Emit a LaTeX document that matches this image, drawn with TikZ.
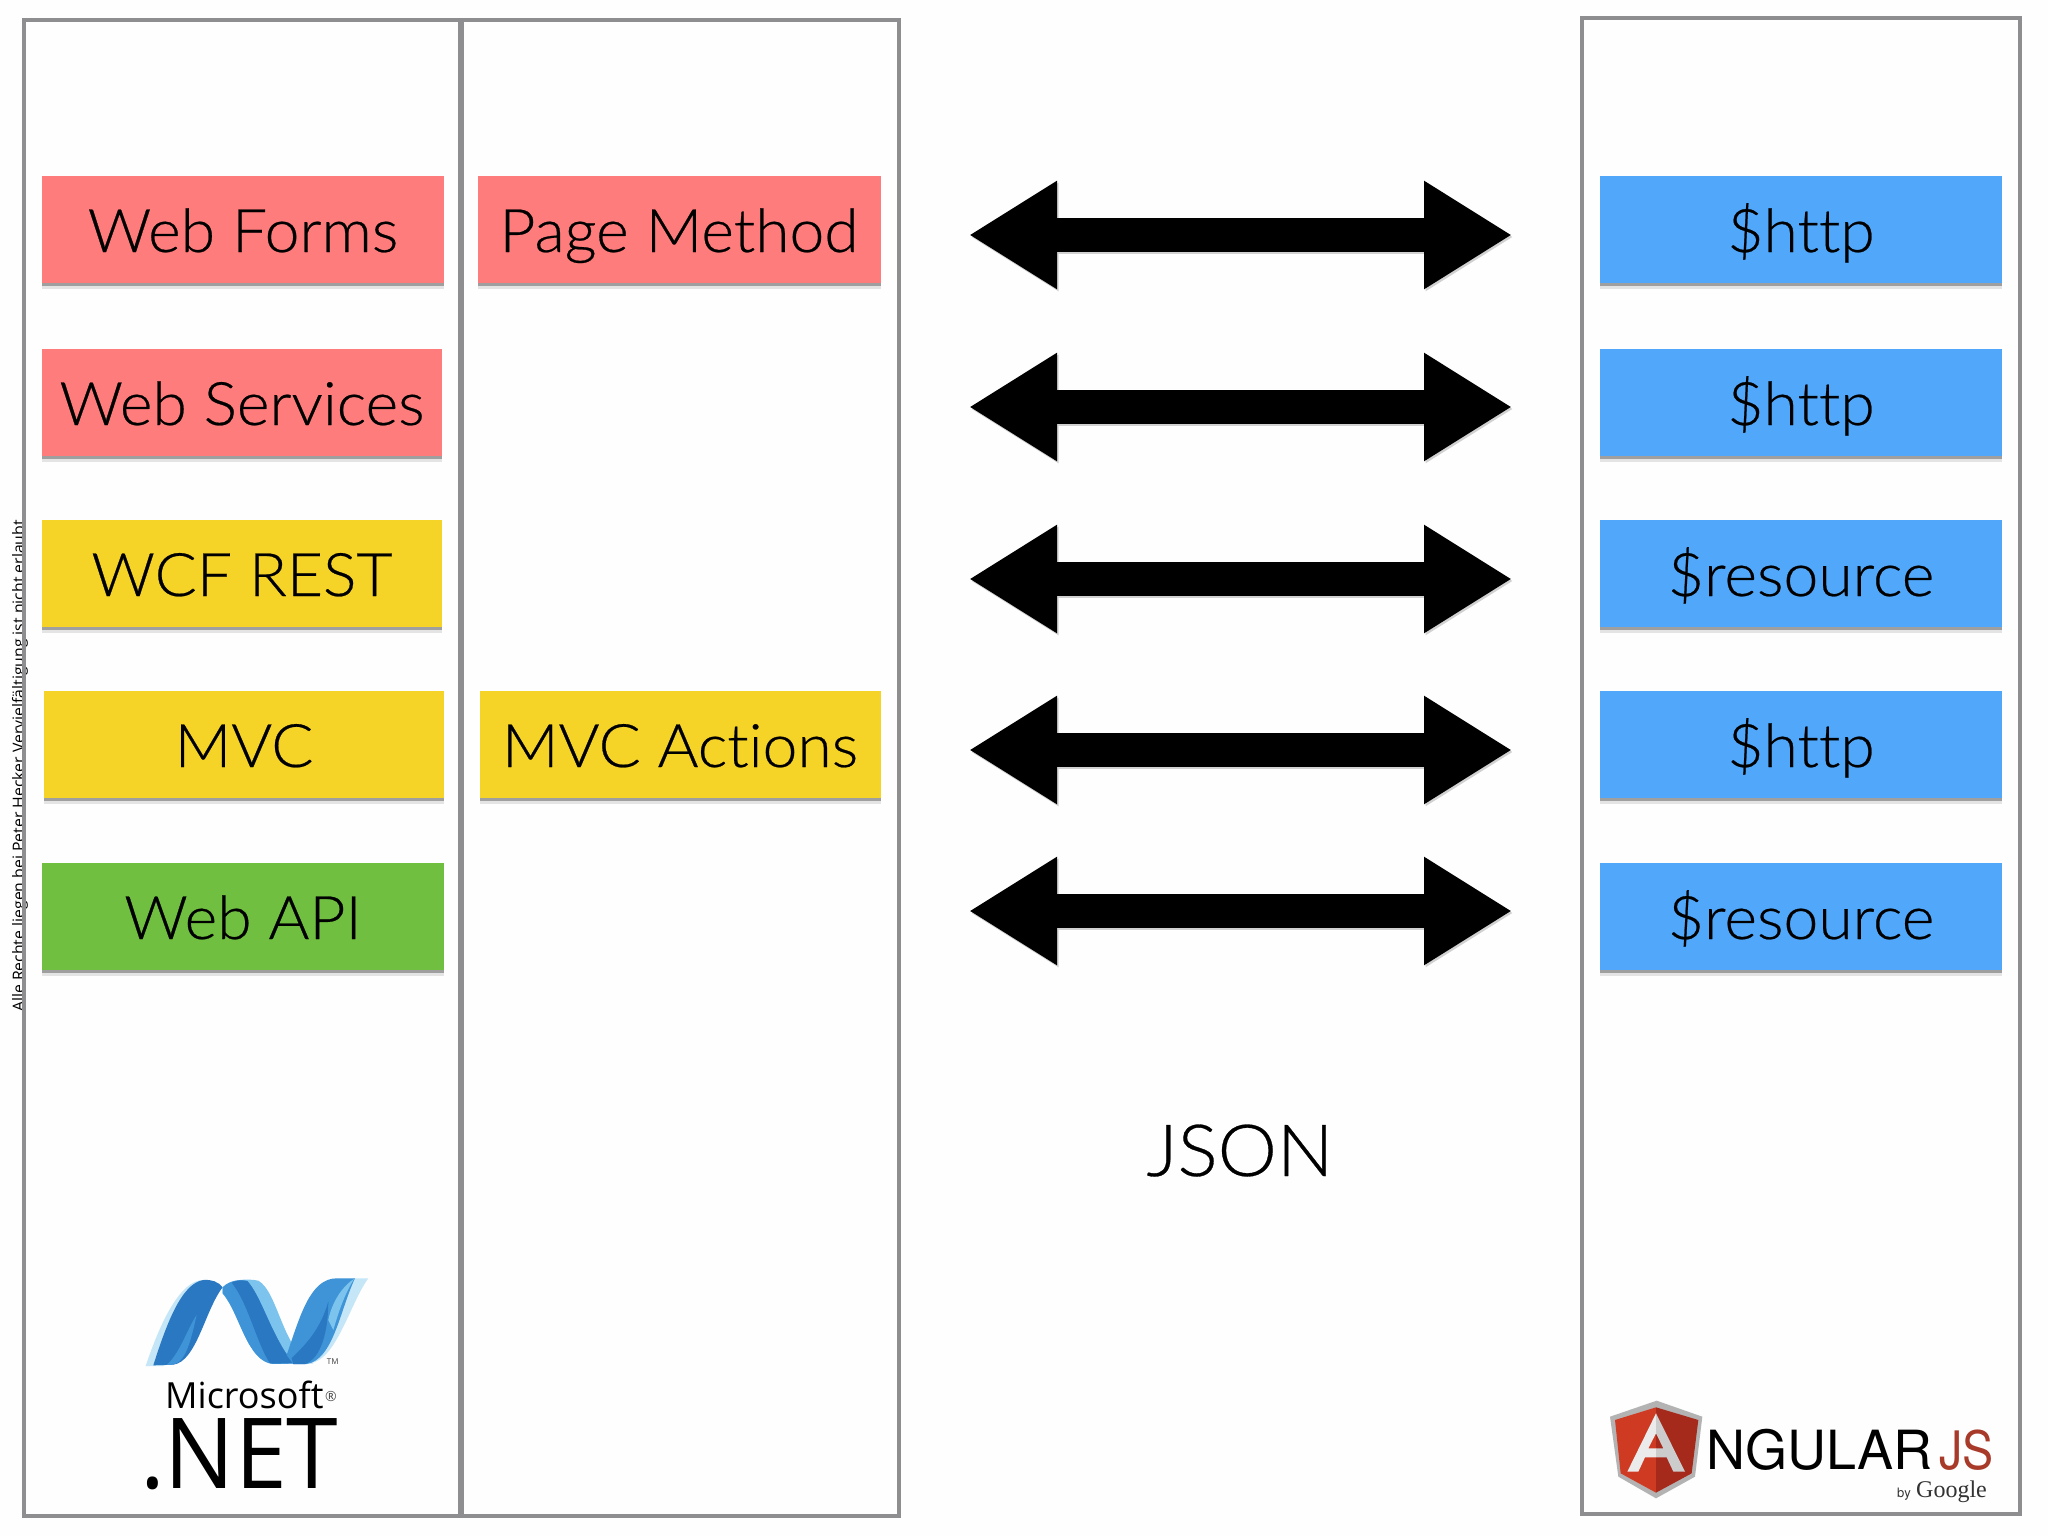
\documentclass[tikz,border=0pt]{standalone}
\usepackage{fontspec}
\setmainfont{TeX Gyre Heros}
\newfontfamily\thinfont{Lato Light}[FakeStretch=1.04,FakeBold=0.4,Ligatures=NoCommon]
\newfontfamily\opensans{Open Sans}
\newfontfamily\serifgoogle{Liberation Serif}
\usetikzlibrary{arrows.meta,shadows}

\definecolor{panelgray}{HTML}{8E8E90}
\definecolor{boxred}{HTML}{FF7C7C}
\definecolor{boxyellow}{HTML}{F5D327}
\definecolor{boxgreen}{HTML}{70BF41}
\definecolor{boxblue}{HTML}{51A7F9}
\definecolor{netdark}{HTML}{2A78C2}
\definecolor{netmid}{HTML}{3F94D8}
\definecolor{netlight}{HTML}{7CC4EE}
\definecolor{netpale}{HTML}{C5E6F6}
\definecolor{ngshield}{HTML}{B3B3B3}
\definecolor{ngred}{HTML}{CF3A22}
\definecolor{ngdark}{HTML}{A62A1C}
\definecolor{ngjs}{HTML}{A83A2A}

\tikzset{
  panel/.style={draw=panelgray, line width=4.4pt},
  card/.style={minimum height=107pt, inner sep=0pt, text=black,
    text height=46pt, text depth=0pt,
    font=\thinfont\fontsize{60}{60}\selectfont,
    drop shadow={shadow xshift=0pt, shadow yshift=-6pt, fill=black, opacity=.10},
    drop shadow={shadow xshift=0pt, shadow yshift=-3.5pt, fill=black, opacity=.30}},
  dbl/.style={line width=34pt, line cap=butt,
    {Triangle[length=88pt,width=102pt]}-{Triangle[length=88pt,width=102pt]}},
  lbl/.style={inner sep=0pt, anchor=base west}
}

\begin{document}
\begin{tikzpicture}[x=1pt, y=-1pt]
\useasboundingbox (0,0) rectangle (2048,1536);
\fill[white!99.5!black] (0,0) rectangle (2048,1536);

% copyright line sits under the panel border
\node[lbl, rotate=90, font=\opensans\fontsize{15.8}{16}\selectfont] (rights) at (24,1012)
  {Alle Rechte liegen bei Peter Hecker Vervielfältigung ist nicht erlaubt};

% panels
\draw[panel] (24,20) rectangle (460,1516);
\draw[panel] (462,20) rectangle (899,1516);
\draw[panel] (1582,18) rectangle (2020,1514);

% first column
\node[card, fill=boxred, minimum width=402pt] (webforms) at (243,229) {Web Forms};
\node[card, fill=boxred, minimum width=400pt] (webservices) at (242,402) {Web Services};
\node[card, fill=boxyellow, minimum width=400pt] (wcf) at (242,573) {WCF REST};
\node[card, fill=boxyellow, minimum width=400pt] (mvc) at (244,744) {MVC};
\node[card, fill=boxgreen, minimum width=402pt] (webapi) at (243,916) {Web API};

% second column
\node[card, fill=boxred, minimum width=403pt] (pagemethod) at (679,229) {Page Method};
\node[card, fill=boxyellow, minimum width=401pt] (mvcactions) at (680,744) {MVC Actions};

% client column
\node[card, fill=boxblue, minimum width=402pt] (http1) at (1801,229) {\$http};
\node[card, fill=boxblue, minimum width=402pt] (http2) at (1801,402) {\$http};
\node[card, fill=boxblue, minimum width=402pt] (res1) at (1801,573) {\$resource};
\node[card, fill=boxblue, minimum width=402pt] (http3) at (1801,744) {\$http};
\node[card, fill=boxblue, minimum width=402pt] (res2) at (1801,916) {\$resource};

% double arrows
\foreach \n/\yy in {1/235,2/407,3/579,4/750,5/911}{
  \coordinate (al\n) at (969,\yy);
  \coordinate (ar\n) at (1512,\yy);
  \draw[dbl, draw=black!18, color=black!18] ([shift={(1.5,2)}]al\n) -- ([shift={(1.5,2)}]ar\n);
  \draw[dbl, draw=black, color=black] (al\n) -- (ar\n);
}

\node[inner sep=0pt, font=\thinfont\fontsize{72}{72}\selectfont, text height=50pt, text depth=0pt] (json) at (1240,1151) {JSON};

% .NET logo, numbers are crop pixels
\begin{scope}[shift={(0,1230)}, x=0.3333pt, y=-0.3333pt]
  % left strip
  \fill[netpale] (437,408) .. controls (480,280) and (540,150) .. (610,150)
    -- (660,165) .. controls (590,210) and (560,390) .. (490,408) -- cycle;
  \fill[netdark] (460,406) .. controls (500,280) and (545,160) .. (610,150)
    .. controls (635,148) and (655,155) .. (668,172)
    .. controls (615,240) and (590,395) .. (520,404) -- cycle;
  \fill[netmid] (500,405) .. controls (540,370) and (560,300) .. (590,255)
    .. controls (575,320) and (560,395) .. (520,404) -- cycle;
  % middle strip
  \fill[netlight] (668,172) .. controls (690,148) and (740,145) .. (775,152)
    .. controls (835,185) and (850,370) .. (940,400)
    -- (820,402) .. controls (740,395) and (720,250) .. (668,190) -- cycle;
  \fill[netmid] (668,172) .. controls (690,150) and (720,148) .. (742,153)
    .. controls (785,200) and (815,320) .. (880,400)
    -- (820,402) .. controls (740,395) and (720,250) .. (668,190) -- cycle;
  \fill[netdark] (695,158) .. controls (710,150) and (725,150) .. (742,153)
    .. controls (785,200) and (815,320) .. (880,400)
    -- (810,400) .. controls (770,340) and (745,220) .. (695,158) -- cycle;
  % right strip
  \fill[netpale] (1000,145) -- (1105,145) .. controls (1050,220) and (1010,390) .. (930,400)
    .. controls (1000,340) and (1020,220) .. (1060,145) -- cycle;
  \fill[netmid] (860,375) .. controls (900,260) and (930,145) .. (1010,145)
    -- (1065,145) .. controls (1020,240) and (1000,390) .. (920,402)
    -- (880,402) -- cycle;
  \fill[netlight] (1000,300) .. controls (1015,250) and (1030,200) .. (1062,147)
    .. controls (1040,160) and (1000,200) .. (985,270) -- cycle;
  \fill[netdark] (875,385) .. controls (920,340) and (960,300) .. (985,215)
    .. controls (985,300) and (965,385) .. (915,402) -- (880,402) -- cycle;
  \node[lbl, font=\opensans\fontsize{8}{8}\selectfont, text=black!75] (tm) at (980,402) {TM};
\end{scope}
\node[lbl, font=\opensans\fontsize{36}{36}\selectfont] (microsoft) at (165,1408) {Microsoft};
\node[lbl, font=\opensans\fontsize{14}{14}\selectfont, text=black!70] (reg) at (325,1401) {®};
\node[lbl, font=\opensans\fontsize{98}{98}\selectfont, xscale=.95] (dotnet) at (140,1488) {.NET};

% AngularJS logo, numbers are crop pixels
\begin{scope}[shift={(1570,1370)}, x=0.3333pt, y=-0.3333pt]
  \fill[ngshield] (260,92) -- (397,140) -- (375,320) -- (258,385) -- (145,320) -- (120,140) -- cycle;
  \fill[ngred] (258,112) -- (135,150) -- (152,310) -- (258,368) -- cycle;
  \fill[ngdark] (258,112) -- (385,150) -- (365,310) -- (258,368) -- cycle;
  \fill[white!92!black] (258,130) -- (258,190) -- (235,235) -- (258,235) -- (258,262)
    -- (225,262) -- (205,305) -- (172,305) -- cycle;
  \fill[black!20] (258,130) -- (345,305) -- (310,305) -- (290,262) -- (258,262) -- (258,235)
    -- (280,235) -- (258,190) -- cycle;
\end{scope}
\node[lbl, font=\fontsize{54}{54}\selectfont] (ngular) at (1706,1469) {NGULAR};
\node[lbl, font=\fontsize{53}{53}\selectfont, text=ngjs, xscale=.88] (js) at (1939,1469) {JS};
\node[lbl, font=\fontsize{13}{13}\selectfont, text=black!80] (by) at (1897,1497) {by};
\node[lbl, font=\serifgoogle\fontsize{24}{24}\selectfont, text=black!80] (google) at (1916,1497) {Google};
\end{tikzpicture}
\end{document}
